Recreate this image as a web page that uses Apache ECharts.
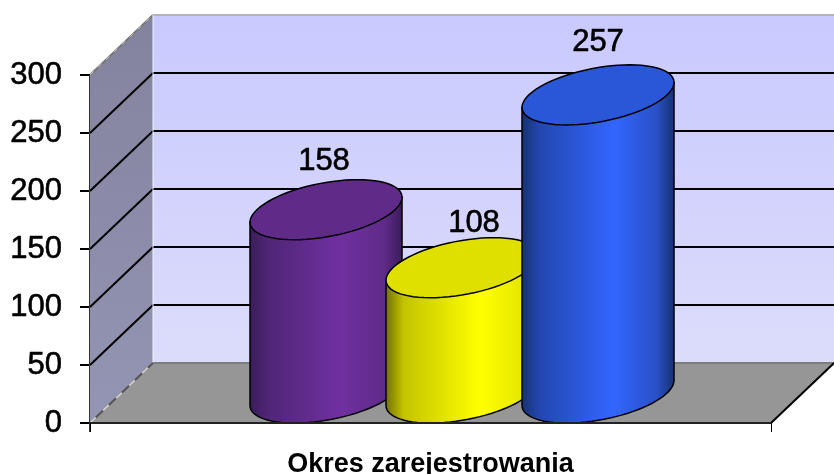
<!DOCTYPE html>
<html><head><meta charset="utf-8">
<style>html,body{margin:0;padding:0;background:#fff}#c{width:834px;height:474px}</style>
<script src="https://cdn.jsdelivr.net/npm/echarts@6/dist/echarts.min.js"></script>
</head><body><div id="c"></div>
<script>
const categories = ['Okres zarejestrowania'];
const values = [158, 108, 257];
const yMin = 0, yMax = 300, yStep = 50;

const DX = 63, DY = -60;           // depth of the 3D box in pixels
const RX = 76, TILT = 12.5, RY = 27.3; // cylinder ellipse
const SPACING = 136;
const LABEL_OFF = [[-2,-48],[12,-44],[0,-52]];
const SKINS = [
  {top:'#5f2a88', stops:[[0,'#3a1c58'],[0.12,'#4f2676'],[0.6,'#7030a0'],[0.88,'#5f2a88'],[1,'#3a1c58']]},
  {top:'#e0e000', stops:[[0,'#6f6f00'],[0.12,'#c4c400'],[0.62,'#ffff00'],[0.88,'#e8e800'],[1,'#8f8f00']]},
  {top:'#2a56d8', stops:[[0,'#16306f'],[0.12,'#2347b0'],[0.6,'#3366ff'],[0.88,'#2a50c8'],[1,'#16306f']]}
];
const G = echarts.graphic;
const FONT = 'Liberation Sans, Arial, sans-serif';

function ellipsePts(cx, cy, from, to, n) {
  const pts = [];
  for (let i = 0; i <= n; i++) {
    const t = from + (to - from) * i / n;
    pts.push([cx + RX * Math.cos(t), cy - TILT * Math.cos(t) + RY * Math.sin(t)]);
  }
  return pts;
}

function renderBox(params, api) {
  const r = params.coordSys;
  const L = r.x, R = r.x + r.width;
  const y0 = api.coord([0, yMin])[1], yT = api.coord([0, yMax])[1];
  const kids = [];
  const poly = (points, style) => kids.push({type:'polygon', shape:{points}, style});
  const line = (a, b, style) => kids.push({type:'line', shape:{x1:a[0],y1:a[1],x2:b[0],y2:b[1]}, style});
  poly([[L+DX,yT+DY],[R+DX,yT+DY],[R+DX,y0+DY],[L+DX,y0+DY]],
    {fill:new G.LinearGradient(0,0,0,1,[{offset:0,color:'#c9c9ff'},{offset:1,color:'#dcdcfb'}])});
  poly([[L,yT],[L+DX,yT+DY],[L+DX,y0+DY],[L,y0]],
    {fill:new G.LinearGradient(0,0,0,1,[{offset:0,color:'#83839f'},{offset:1,color:'#9494b4'}])});
  poly([[L,y0],[R,y0],[R+DX,y0+DY],[L+DX,y0+DY]], {fill:'#969696'});
  for (let v = yMin + yStep; v < yMax; v += yStep) {
    const y = api.coord([0, v])[1];
    const st = {stroke:'#000', lineWidth:2};
    line([L,y],[L+DX,y+DY],st);
    line([L+DX,y+DY],[R+DX,y+DY],st);
  }
  line([L,yT],[L+DX,yT+DY],{stroke:'#777',lineWidth:2});
  line([L,yT],[L+DX,yT+DY],{stroke:'#ccc',lineWidth:1,lineDash:[5,6]});
  line([L+DX,yT+DY],[R+DX,yT+DY],{stroke:'#b4b4b4',lineWidth:2});
  line([L+DX,yT+DY],[L+DX,y0+DY],{stroke:'#f2f2ff',lineWidth:1});
  line([L+DX,y0+DY],[R+DX,y0+DY],{stroke:'#7d7d7d',lineWidth:2});
  line([L,y0],[L+DX,y0+DY],{stroke:'#555',lineWidth:2});
  line([L,y0],[L+DX,y0+DY],{stroke:'#ccc',lineWidth:2,lineDash:[8,10]});
  line([R,y0],[R+DX,y0+DY],{stroke:'#000',lineWidth:2});
  // value-axis ticks and line
  for (let v = yMin; v <= yMax; v += yStep) {
    const y = api.coord([0, v])[1];
    line([L-10,y],[L,y],{stroke:'#000',lineWidth:2});
  }
  line([L-0.5,yT],[L-0.5,y0+9],{stroke:'#333',lineWidth:1});
  return {type:'group', children:kids};
}

function renderCyl(params, api) {
  const i = params.dataIndex;
  const v = api.value(1);
  const c0 = api.coord([0, yMin]), c1 = api.coord([0, v]);
  const cx = c0[0] + DX / 2 + (i - 1) * SPACING;
  const cyB = c0[1] + DY / 2, cyT = c1[1] + DY / 2;
  const skin = SKINS[i];
  const topL = [cx - RX, cyT + TILT], topR = [cx + RX, cyT - TILT];
  const body = [topL].concat(ellipsePts(cx, cyB, Math.PI, 0, 40)).concat([topR]);
  const top = ellipsePts(cx, cyT, 0, Math.PI * 2, 72);
  return {type:'group', children:[
    {type:'polygon', shape:{points:body}, style:{
      fill:new G.LinearGradient(0,0,1,0,skin.stops.map(s=>({offset:s[0],color:s[1]}))),
      stroke:'#000', lineWidth:1.5}},
    {type:'polygon', shape:{points:top}, style:{fill:skin.top, stroke:'#000', lineWidth:1.5}},
    {type:'text', z2:50, style:{text:String(v), x:cx+LABEL_OFF[i][0], y:cyT+LABEL_OFF[i][1],
      align:'center', verticalAlign:'middle', font:'31px '+FONT, fill:'#000', stroke:'#000', lineWidth:0.6}}
  ]};
}

const chart = echarts.init(document.getElementById('c'), null, {renderer:'canvas'});
chart.setOption({
  animation:false,
  backgroundColor:'#fff',
  grid:{left:90, right:63, top:75, bottom:51, outerBoundsMode:'none'},
  xAxis:{type:'category', data:categories, boundaryGap:true, z:6,
    axisLine:{show:true, onZero:false, lineStyle:{color:'#222', width:2}},
    axisTick:{show:true, length:9, inside:false, lineStyle:{color:'#000', width:1}},
    axisLabel:{show:true, margin:28, fontFamily:FONT, fontWeight:'bold', fontSize:27, color:'#000', interval:0}
  },
  yAxis:{type:'value', min:yMin, max:yMax, interval:yStep, z:6,
    axisLine:{show:false},
    axisTick:{show:false},
    axisLabel:{show:true, margin:28, padding:[11,0,0,0], fontFamily:FONT, fontSize:31, color:'#000',
      textBorderColor:'#000', textBorderWidth:0.6},
    splitLine:{show:false}
  },
  series:[
    {type:'custom', coordinateSystem:'cartesian2d', z:1, silent:true,
      data:[[0,yMax]], renderItem:renderBox, clip:false},
    {type:'custom', coordinateSystem:'cartesian2d', z:3, silent:true,
      data:values.map(v=>[0,v]), renderItem:renderCyl, clip:false}
  ]
});
</script></body></html>
